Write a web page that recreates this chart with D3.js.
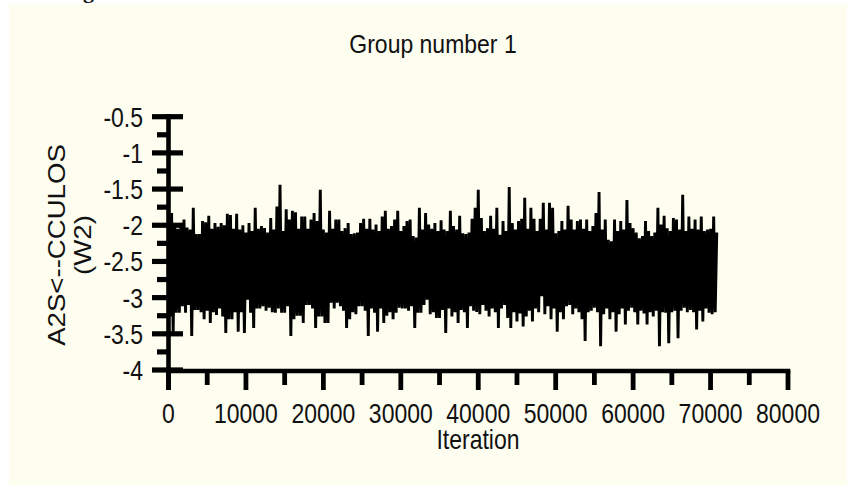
<!DOCTYPE html>
<html>
<head>
<meta charset="utf-8">
<script src="https://cdn.jsdelivr.net/npm/d3@7"></script>
<style>
  html, body { margin: 0; padding: 0; background: #fff; }
  svg { display: block; }
  text { font-family: "Liberation Sans", Arial, Helvetica, sans-serif; fill: #111; }
</style>
</head>
<body>
<svg id="chart"></svg>
<script>
var width = 847;
var height = 488;

// trace of the sampler, one value every `step` iterations
var step = 200;
var trace0to17800 = [
  -1.85,-3.26,-1.83,-3.49,-1.97,-3.21,-2.05,-3.21,-1.99,-3.12,
  -1.92,-3.21,-2.03,-3.1,-2.06,-3.53,-1.76,-3.17,-2.12,-3.17,
  -2.12,-3.2,-1.94,-3.3,-1.96,-3.18,-1.87,-3.35,-2.05,-3.2,
  -1.97,-3.24,-2.02,-3.15,-1.97,-3.26,-2.0,-3.49,-1.84,-3.3,
  -1.86,-3.3,-2.05,-3.2,-1.84,-3.47,-2.06,-3.2,-2.0,-3.49,
  -2.1,-3.03,-1.97,-3.21,-2.08,-3.42,-1.76,-3.15,-2.05,-3.15,
  -2.01,-3.12,-2.04,-3.18,-2.1,-3.14,-1.9,-3.2,-2.06,-3.21,
  -1.74,-3.15,-1.44,-3.21,-2.08,-3.21,-1.78,-3.12,-1.92,-3.53,
  -1.8,-3.3,-1.82,-3.25,-2.05,-3.25,-1.88,-3.35,-1.88,-3.1
];
var trace18000to35800 = [
  -2.05,-3.1,-1.92,-3.15,-1.83,-3.42,-1.94,-3.26,-1.51,-3.26,
  -2.06,-3.35,-2.1,-3.35,-1.8,-3.07,-2.05,-3.15,-1.92,-3.07,
  -1.92,-3.12,-2.08,-3.18,-2.04,-3.42,-1.97,-3.3,-2.12,-3.2,
  -2.11,-3.23,-2.1,-3.12,-1.97,-3.12,-1.91,-3.18,-2.05,-3.53,
  -1.91,-3.15,-2.06,-3.21,-1.99,-3.47,-2.08,-3.15,-1.88,-3.35,
  -1.8,-3.25,-2.05,-3.2,-2.01,-3.3,-1.92,-3.21,-1.8,-3.14,
  -2.08,-3.15,-2.01,-3.15,-1.94,-3.18,-1.92,-3.12,-2.15,-3.42,
  -2.17,-3.21,-1.76,-3.21,-2.06,-3.1,-1.83,-3.03,-1.99,-3.23,
  -2.05,-3.2,-1.97,-3.28,-2.08,-3.28,-1.93,-3.17,-2.06,-3.49
];
var trace36000to53800 = [
  -2.08,-3.15,-1.8,-3.26,-2.01,-3.2,-2.06,-3.35,-1.87,-3.17,
  -2.11,-3.2,-2.12,-3.42,-2.1,-3.12,-1.91,-3.18,-1.76,-3.2,
  -1.51,-3.23,-1.9,-3.1,-2.08,-3.18,-2.04,-3.26,-1.87,-3.15,
  -2.05,-3.2,-1.76,-3.42,-2.13,-3.15,-1.94,-3.1,-2.08,-3.28,
  -1.47,-3.42,-1.97,-3.2,-2.06,-3.33,-1.94,-3.22,-1.91,-3.4,
  -1.62,-3.26,-2.05,-3.18,-1.76,-3.33,-1.91,-3.15,-2.08,-3.2,
  -1.91,-2.98,-1.69,-3.23,-2.06,-3.12,-1.69,-3.3,-1.76,-3.15,
  -2.11,-3.47,-2.08,-3.2,-1.94,-3.3,-2.06,-3.12,-1.73,-3.1,
  -1.92,-3.23,-2.06,-3.15,-1.94,-3.2,-1.92,-3.3,-2.05,-3.6
];
var trace54000to70800 = [
  -1.92,-3.2,-2.08,-3.18,-2.01,-3.14,-1.83,-3.2,-1.54,-3.67,
  -2.06,-3.23,-1.92,-3.15,-2.2,-3.3,-2.22,-3.2,-1.92,-3.47,
  -2.08,-3.23,-1.94,-3.15,-2.06,-3.37,-1.65,-3.18,-1.97,-3.14,
  -2.04,-3.2,-2.1,-3.37,-2.18,-3.18,-2.15,-3.22,-1.94,-3.37,
  -2.08,-3.2,-2.15,-3.26,-2.1,-3.18,-1.76,-3.67,-1.99,-3.2,
  -1.87,-3.21,-2.04,-3.63,-2.08,-3.2,-1.9,-3.18,-1.92,-3.56,
  -2.06,-3.18,-1.58,-3.14,-2.08,-3.2,-1.88,-3.17,-2.05,-3.2,
  -1.92,-3.44,-2.06,-3.18,-1.88,-3.33,-2.08,-3.15,-2.06,-3.21,
  -2.05,-3.23,-1.88,-3.2,-2.1
];

var xTicks = [0, 10000, 20000, 30000, 40000, 50000, 60000, 70000, 80000];
var xMinorTicks = [5000, 15000, 25000, 35000, 45000, 55000, 65000, 75000];
var yTicks = [-4, -3.5, -3, -2.5, -2, -1.5, -1, -0.5];
var yTickLabels = ['-4', '-3.5', '-3', '-2.5', '-2', '-1.5', '-1', '-0.5'];
var yMinorTicks = [-3.75, -3.25, -2.75, -2.25, -1.75, -1.25, -0.75];

var titleText = 'Group number 1';
var xLabel = 'Iteration';
var yLabelLines = ['A2S<--CCULOS', '(W2)'];

var stretch = 1.2; // the picture is a little taller than the fonts

var svg = d3.select('#chart').attr('width', width).attr('height', height);

svg.append('rect')
  .attr('x', 9).attr('y', 4)
  .attr('width', width - 9).attr('height', 481)
  .attr('fill', '#fdfdf0');

// bottom of the page heading above, cut off by the picture
svg.append('text')
  .attr('x', 83).attr('y', -2)
  .style('font-family', '"Liberation Serif", "DejaVu Serif", serif')
  .style('font-weight', 'bold')
  .style('font-size', '22px')
  .text('g');

var x = d3.scaleLinear().domain([0, 80000]).range([168.5, 788]);
var y = d3.scaleLinear().domain([-4, -0.5]).range([370, 116.7]);

var trace = trace0to17800.concat(trace18000to35800, trace36000to53800, trace54000to70800);

var line = d3.line()
  .x(function (d, i) { return x(i * step); })
  .y(function (d) { return y(d); });

svg.append('path')
  .datum(trace)
  .attr('d', line)
  .attr('fill', 'none')
  .attr('stroke', '#000')
  .attr('stroke-width', 2.9)
  .attr('stroke-linejoin', 'bevel');

// axes
var axis = svg.append('g').attr('stroke', '#000');

axis.append('line')
  .attr('x1', x(0)).attr('x2', x(0))
  .attr('y1', y(-0.5) - 2.5).attr('y2', 390)
  .attr('stroke-width', 4.6);

axis.append('line')
  .attr('x1', x(0) - 2.3).attr('x2', x(80000) + 2.3)
  .attr('y1', 371).attr('y2', 371)
  .attr('stroke-width', 4.4);

axis.selectAll('.ymajor').data(yTicks).enter().append('line')
  .attr('x1', 152).attr('x2', 183)
  .attr('y1', d => y(d)).attr('y2', d => y(d))
  .attr('stroke-width', 5.2);

axis.selectAll('.yminor').data(yMinorTicks).enter().append('line')
  .attr('x1', 157).attr('x2', x(0))
  .attr('y1', d => y(d)).attr('y2', d => y(d))
  .attr('stroke-width', 5.2);

axis.selectAll('.xmajor').data(xTicks).enter().append('line')
  .attr('x1', d => x(d)).attr('x2', d => x(d))
  .attr('y1', 371).attr('y2', 390)
  .attr('stroke-width', 4.8);

axis.selectAll('.xminor').data(xMinorTicks).enter().append('line')
  .attr('x1', d => x(d)).attr('x2', d => x(d))
  .attr('y1', 371).attr('y2', 385)
  .attr('stroke-width', 4.8);

function label(px, py, str, anchor, size) {
  var g = svg.append('g')
    .attr('transform', 'translate(' + px + ',' + py + ') scale(1,' + stretch + ')');
  g.append('text')
    .attr('text-anchor', anchor)
    .style('font-size', (size || 23) + 'px')
    .text(str);
  return g;
}

yTicks.forEach(function (d, i) {
  label(143, y(d) + 9.9, yTickLabels[i], 'end');
});

xTicks.forEach(function (d) {
  label(x(d), 423, String(d), 'middle');
});

label(478, 449, xLabel, 'middle');

var title = svg.append('g')
  .attr('transform', 'translate(433,53) scale(1,1.12)');
title.append('text')
  .attr('text-anchor', 'middle')
  .style('font-size', '23px')
  .text(titleText);

[65, 91].forEach(function (bx, i) {
  svg.append('g')
    .attr('transform', 'translate(' + bx + ',245) scale(1,' + stretch + ') rotate(-90)')
    .append('text')
    .attr('text-anchor', 'middle')
    .style('font-size', '23px')
    .text(yLabelLines[i]);
});
</script>
</body>
</html>
